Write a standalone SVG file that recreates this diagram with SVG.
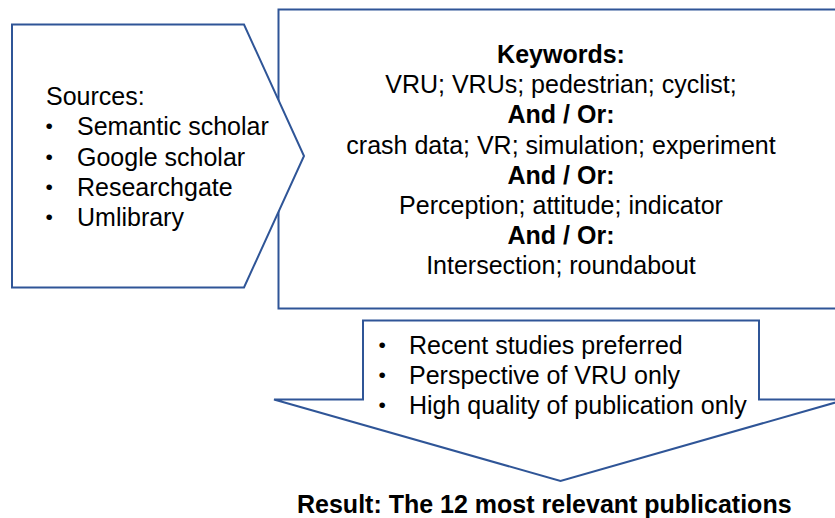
<svg xmlns="http://www.w3.org/2000/svg" width="835" height="518" viewBox="0 0 835 518">
<style>
.shape{fill:#ffffff;stroke:#2F5597;stroke-width:2}
text{font-family:"Liberation Sans",Arial,sans-serif;font-size:25px;fill:#000000}
.b{font-weight:bold}
.c{text-anchor:middle}
.dot{font-size:21px}
</style>
<rect width="835" height="518" fill="#ffffff"/>
<g id="keywords">
<rect class="shape" x="278.5" y="9.5" width="566" height="299"/>
<text class="b c" x="561" y="62.5">Keywords:</text>
<text class="c" x="561" y="93">VRU; VRUs; pedestrian; cyclist;</text>
<text class="b c" x="561" y="123">And / Or:</text>
<text class="c" x="561" y="153.5">crash data; VR; simulation; experiment</text>
<text class="b c" x="561" y="184">And / Or:</text>
<text class="c" x="561" y="214">Perception; attitude; indicator</text>
<text class="b c" x="561" y="244">And / Or:</text>
<text class="c" x="561" y="274">Intersection; roundabout</text>
</g>
<g id="sources">
<polygon class="shape" points="12,24.5 244,24.5 304,156 244,287.5 12,287.5"/>
<text x="46" y="104.5">Sources:</text>
<text class="dot" x="45.5" y="133">•</text><text x="77" y="135">Semantic scholar</text>
<text class="dot" x="45.5" y="163.5">•</text><text x="77" y="165.5">Google scholar</text>
<text class="dot" x="45.5" y="194">•</text><text x="77" y="196">Researchgate</text>
<text class="dot" x="45.5" y="224">•</text><text x="77" y="226">Umlibrary</text>
</g>
<g id="criteria">
<polygon class="shape" points="363,320.5 759,320.5 759,399.5 846,399.5 560.5,481 274,399.5 363,399.5"/>
<text class="dot" x="378.5" y="352">•</text><text x="409" y="354">Recent studies preferred</text>
<text class="dot" x="378.5" y="382">•</text><text x="409" y="384">Perspective of VRU only</text>
<text class="dot" x="378.5" y="411.5">•</text><text x="409" y="413.5">High quality of publication only</text>
</g>
<g id="result">
<text class="b" x="297" y="513">Result: The 12 most relevant publications</text>
</g>
<g id="connectors"></g>
</svg>
